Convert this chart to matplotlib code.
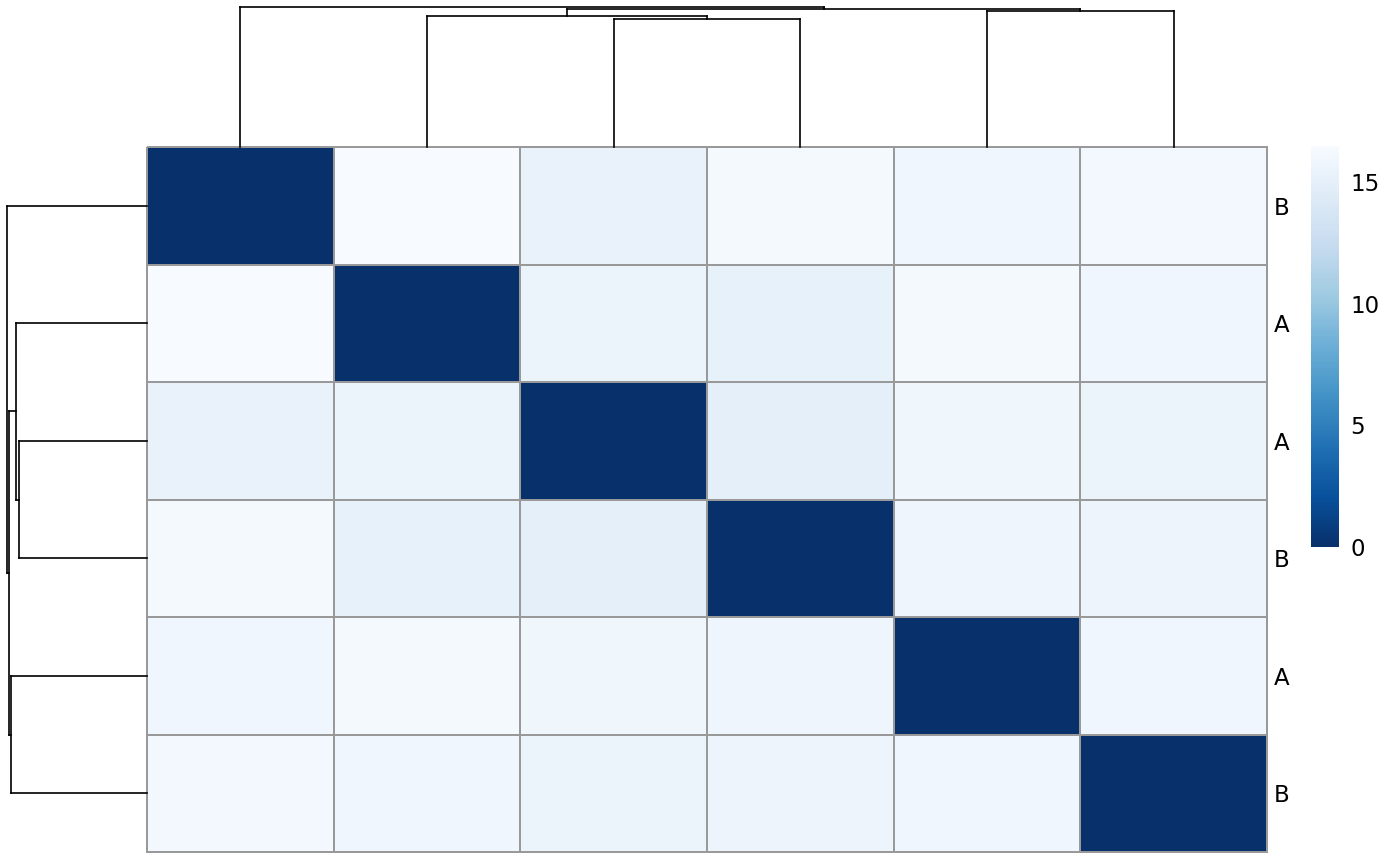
import numpy as np
import matplotlib as mpl
mpl.use("Agg")
import matplotlib.pyplot as plt

# ---- data ------------------------------------------------------------------
row_labels = ["B", "A", "A", "B", "A", "B"]
dist = np.array([
    [0.0, 16.5, 15.3, 16.2, 15.9, 16.1],
    [16.5, 0.0, 15.5, 15.2, 16.2, 15.9],
    [15.3, 15.5, 0.0, 15.0, 15.8, 15.5],
    [16.2, 15.2, 15.0, 0.0, 15.7, 15.6],
    [15.9, 16.2, 15.8, 15.7, 0.0, 15.9],
    [16.1, 15.9, 15.5, 15.6, 15.9, 0.0],
])
# merges in scipy style: (left node, right node, height); new nodes numbered 6, 7, ...
merges = [
    (2, 3, 14.77),
    (1, 6, 15.16),
    (4, 5, 15.74),
    (7, 8, 16.02),
    (0, 9, 16.20),
]
cbar_ticks = [0, 5, 10, 15]
VMAX = 16.5
W, H = 1400, 866


def fig_box(x0, y0, x1, y1):
    """pixel box (top-left origin) -> figure fraction rect"""
    return [x0 / W, 1 - y1 / H, (x1 - x0) / W, (y1 - y0) / H]


def dendro_segments(merges, n):
    pos = {i: i + 0.5 for i in range(n)}
    hgt = {i: 0.0 for i in range(n)}
    segs = []
    for k, (a, b, h) in enumerate(merges):
        node = n + k
        segs.append(((pos[a], hgt[a]), (pos[a], h)))
        segs.append(((pos[b], hgt[b]), (pos[b], h)))
        segs.append(((pos[a], h), (pos[b], h)))
        pos[node] = (pos[a] + pos[b]) / 2
        hgt[node] = h
    return segs


fig = plt.figure(figsize=(W / 100, H / 100), dpi=100)

# ---- heatmap ---------------------------------------------------------------
ax = fig.add_axes(fig_box(147, 147, 1267, 852))
mesh = ax.pcolormesh(dist, cmap="Blues_r", vmin=0, vmax=VMAX,
                     edgecolors="#999999", linewidth=1.1)
mesh.set_clip_on(False)
ax.set_xlim(0, 6)
ax.set_ylim(6, 0)
for s in ax.spines.values():
    s.set_visible(False)
ax.set_xticks([])
ax.yaxis.tick_right()
ax.set_yticks(np.arange(6) + 0.5)
ax.set_yticklabels(row_labels, fontsize=16.5)
ax.tick_params(axis="y", length=0, pad=5)

segs = dendro_segments(merges, 6)
root = merges[-1][2]

# ---- column dendrogram -----------------------------------------------------
axc = fig.add_axes(fig_box(147, 7, 1267, 147))
for (x0, y0), (x1, y1) in segs:
    axc.plot([x0, x1], [y0, y1], color="black", lw=1.2, clip_on=False)
axc.set_xlim(0, 6)
axc.set_ylim(0, root)
axc.axis("off")

# ---- row dendrogram --------------------------------------------------------
axr = fig.add_axes(fig_box(7, 147, 147, 852))
for (x0, y0), (x1, y1) in segs:
    axr.plot([y0, y1], [x0, x1], color="black", lw=1.2, clip_on=False)
axr.set_ylim(6, 0)
axr.set_xlim(root, 0)
axr.axis("off")

# ---- colour bar ------------------------------------------------------------
axb = fig.add_axes(fig_box(1311, 146, 1339, 547))
cb = fig.colorbar(mesh, cax=axb, ticks=cbar_ticks)
cb.outline.set_visible(False)
axb.tick_params(length=0, pad=8, labelsize=16.5)

fig.savefig("out.png", dpi=100)
